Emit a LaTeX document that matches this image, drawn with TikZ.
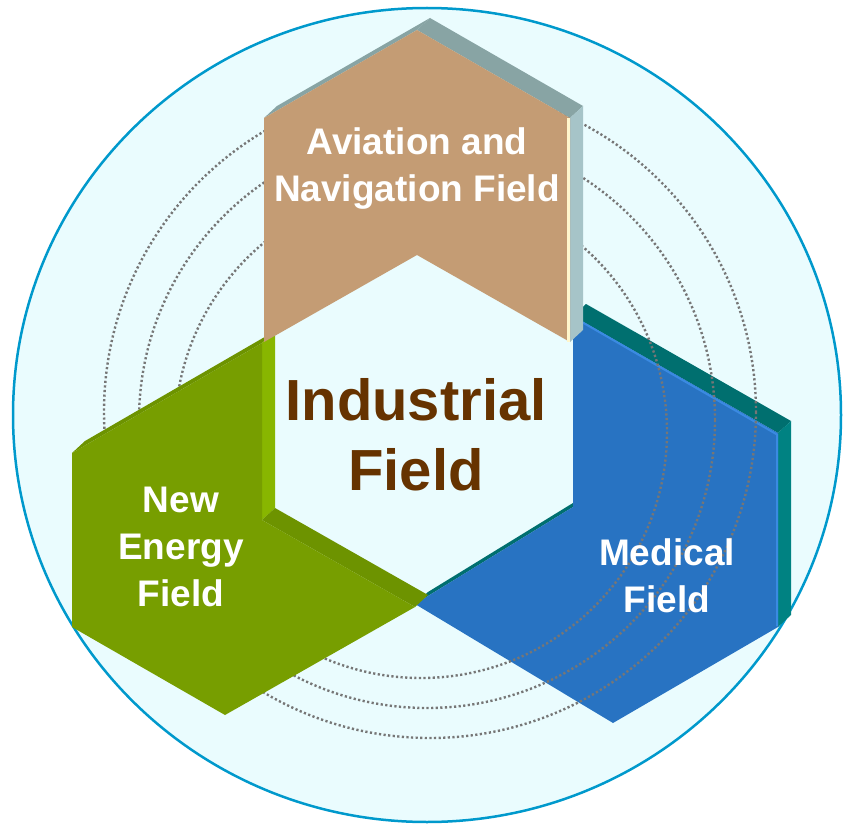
\documentclass[tikz,border=0pt]{standalone}
\usepackage{fontspec}
\setmainfont{Liberation Sans}
\definecolor{bgfill}{HTML}{EAFCFE}
\definecolor{ringc}{HTML}{0099CC}
\definecolor{tanc}{HTML}{C49C74}
\definecolor{tantop}{HTML}{88A4A4}
\definecolor{tanside}{HTML}{A6C4C8}
\definecolor{tanhl}{HTML}{FFF6CC}
\definecolor{grc}{HTML}{779E00}
\definecolor{grside}{HTML}{88B600}
\definecolor{grtop}{HTML}{6D9300}
\definecolor{blc}{HTML}{2873C2}
\definecolor{bltop}{HTML}{006F6F}
\definecolor{blside}{HTML}{008282}
\definecolor{blhl}{HTML}{3A8AE2}
\definecolor{dotc}{HTML}{767676}
\definecolor{brownc}{HTML}{663300}
\tikzset{
  wtext/.style={text=white, font=\bfseries\fontsize{37}{47}\selectfont, align=center, inner sep=0pt},
  btext/.style={text=brownc, font=\bfseries\fontsize{58}{70}\selectfont, align=center, inner sep=0pt},
  dotring/.style={draw=dotc, line width=2.4pt, dash pattern=on 2.2pt off 2.4pt},
}
\begin{document}
\begin{tikzpicture}[x=1pt,y=-1pt]
\useasboundingbox (0,0) rectangle (844,824);
% background disc
\fill[bgfill] (427,415) ellipse [x radius=414, y radius=407];
\draw[ringc, line width=2.5pt] (427,415) ellipse [x radius=414, y radius=407];

% coordinates
\coordinate (T1) at (417,30);  \coordinate (T2) at (570,118);
\coordinate (T3) at (570,342); \coordinate (T4) at (417,255);
\coordinate (T5) at (264,342); \coordinate (T6) at (264,118);
\coordinate (G1) at (262,343); \coordinate (G2) at (262,520);
\coordinate (G3) at (415,607); \coordinate (G4) at (225,715);
\coordinate (G5) at (72,627);  \coordinate (G6) at (72,453);
\coordinate (B1) at (573,316); \coordinate (B2) at (778,433);
\coordinate (B3) at (778,627); \coordinate (B4) at (613,723);
\coordinate (B5) at (415,604); \coordinate (B6) at (573,507);

% ---- blue (Medical) ----
\fill[bltop] (B1) -- (B2) -- ([shift={(13,-12)}]B2) -- ([shift={(13,-12)}]B1) -- cycle;
\fill[blside] (B2) -- (B3) -- ([shift={(13,-12)}]B3) -- ([shift={(13,-12)}]B2) -- cycle;
\fill[bltop] (B6) -- (B5) -- ([shift={(13,-12)}]B5) -- ([shift={(13,-12)}]B6) -- cycle;
\fill[blc] (B1) -- (B2) -- (B3) -- (B4) -- (B5) -- (B6) -- cycle;
\draw[blhl, line width=2pt] ([shift={(1,1.5)}]B1) -- ([shift={(-1,1.5)}]B2) -- ([shift={(-1,-1)}]B3);

% dotted rings
\draw[dotring] (421,432) circle [radius=246];
\draw[dotring] (427,420) circle [radius=288];
\draw[dotring] (430,412) circle [radius=326];

% ---- green (New Energy) ----
\fill[grtop] (G6) -- (G1) -- ([shift={(13,-12)}]G1) -- ([shift={(13,-12)}]G6) -- cycle;
\fill[grside] (G1) -- (G2) -- ([shift={(13,-12)}]G2) -- ([shift={(13,-12)}]G1) -- cycle;
\fill[grtop] (G2) -- (G3) -- ([shift={(13,-12)}]G3) -- ([shift={(13,-12)}]G2) -- cycle;
\fill[grc] (G1) -- (G2) -- (G3) -- (G4) -- (G5) -- (G6) -- cycle;

% ---- tan (Aviation) ----
\fill[tantop] (T6) -- (T1) -- ([shift={(13,-12)}]T1) -- ([shift={(13,-12)}]T6) -- cycle;
\fill[tantop] (T1) -- (T2) -- ([shift={(13,-12)}]T2) -- ([shift={(13,-12)}]T1) -- cycle;
\fill[tanside] (T2) -- (T3) -- ([shift={(13,-12)}]T3) -- ([shift={(13,-12)}]T2) -- cycle;
\fill[tanc] (T1) -- (T2) -- (T3) -- (T4) -- (T5) -- (T6) -- cycle;
\draw[tanhl, line width=2.5pt] ([xshift=-1.5pt]T2) -- ([xshift=-1.5pt]T3);

% texts
\node[wtext, anchor=north] (avi) at (417,127) {Aviation and\\Navigation Field};
\node[btext, anchor=north] (ind) at (416,378) {Industrial\\Field};
\node[wtext, anchor=north] (ne) at (181,487) {New\\Energy\\Field};
\node[wtext, anchor=north] (med) at (667,538) {Medical\\Field};
\end{tikzpicture}
\end{document}
